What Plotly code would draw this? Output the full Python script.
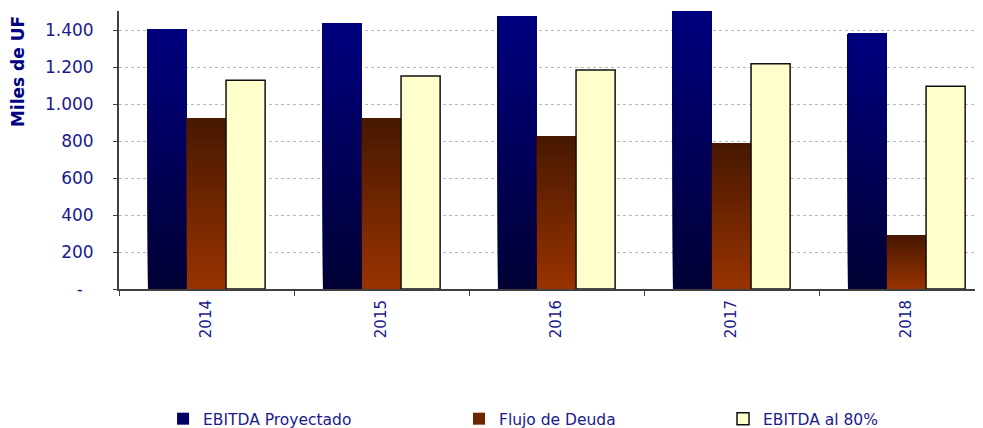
import plotly.graph_objects as go

years = ["2014", "2015", "2016", "2017", "2018"]
ebitda = [1405, 1438, 1476, 1503, 1380]
flujo = [924, 924, 827, 789, 292]
ebitda80 = [1128, 1151, 1184, 1218, 1096]

y_tickvals = [0, 200, 400, 600, 800, 1000, 1200, 1400]
y_ticktext = ["-\u00a0\u00a0", "200", "400", "600", "800", "1.000", "1.200", "1.400"]
y_title = "Miles de UF"

NAVY_TXT = "#1a1a8c"
FONT = "DejaVu Sans, Verdana, sans-serif"


def lerp(c1, c2, t):
    return "#%02x%02x%02x" % tuple(int(round(a + (b - a) * t)) for a, b in zip(c1, c2))


def gradient_bars(fig, name, values, top_rgb, bot_rgb, group, legend_color, legend_id, n=40):
    # overlapping slices (each from its base up to the full value) so no seams show
    for k in range(n):
        t = (k + 0.5) / n  # 0 bottom -> 1 top
        col = lerp(bot_rgb, top_rgb, t)
        fig.add_trace(go.Bar(
            x=years,
            y=[v * (n - k) / n for v in values],
            base=[v * k / n for v in values],
            name=name,
            offsetgroup=group,
            legendgroup=group,
            showlegend=False,
            marker=dict(color=col, line=dict(width=0)),
            hoverinfo="skip",
        ))
    # legend proxy
    fig.add_trace(go.Bar(
        x=[None], y=[None], name=name, offsetgroup=group, legendgroup=group,
        legend=legend_id,
        marker=dict(color=legend_color, line=dict(width=0)), showlegend=True,
    ))


fig = go.Figure()
gradient_bars(fig, "EBITDA Proyectado", ebitda, (0, 0, 128), (0, 0, 51), "a", "#000066", "legend")
gradient_bars(fig, "Flujo de Deuda", flujo, (70, 24, 0), (153, 51, 0), "b", "#6e2600", "legend2")
fig.add_trace(go.Bar(
    x=years, y=ebitda80, name="EBITDA al 80%", offsetgroup="c", legendgroup="c",
    legend="legend3",
    marker=dict(color="#FFFFCC", line=dict(color="#111111", width=1.5)),
))

leg_common = dict(
    orientation="h", xanchor="left", y=-0.468, yanchor="middle",
    font=dict(family=FONT, size=15.5, color=NAVY_TXT),
    itemwidth=30, itemclick=False, bgcolor="rgba(0,0,0,0)",
)

fig.update_layout(
    width=975, height=420,
    margin=dict(l=111, r=0, t=3, b=139, autoexpand=False),
    paper_bgcolor="white", plot_bgcolor="white",
    barmode="group", bargap=0.33, bargroupgap=0,
    font=dict(family=FONT, color=NAVY_TXT, size=15),
    showlegend=True,
    legend=dict(x=0.051, **leg_common),
    legend2=dict(x=0.3935, **leg_common),
    legend3=dict(x=0.6991, **leg_common),
    annotations=[dict(
        text="<b>" + y_title + "</b>", textangle=-90,
        xref="paper", yref="paper", x=-0.1169, y=0.784,
        xanchor="center", yanchor="middle", showarrow=False,
        font=dict(size=17, color="#000080", family=FONT),
    )],
)
fig.update_xaxes(
    type="category", range=[-0.5, 4.437], automargin=False,
    tickangle=-90, tickfont=dict(size=15, color=NAVY_TXT, family=FONT),
    showline=True, linecolor="#404040", linewidth=2,
    ticks="outside", tickson="boundaries", ticklen=5, tickcolor="#404040",
    ticklabelstandoff=3,
    showgrid=False,
)
fig.update_yaxes(
    range=[0, 1503], tickvals=y_tickvals, ticktext=y_ticktext, automargin=False,
    tickfont=dict(size=17, color=NAVY_TXT, family=FONT),
    showline=True, linecolor="#404040", linewidth=2,
    ticks="outside", ticklen=4, tickcolor="#404040",
    ticklabelstandoff=16,
    showgrid=True, gridcolor="#b8b8b8", griddash="dot", gridwidth=1,
    zeroline=False,
)

fig.write_html("out.html")
